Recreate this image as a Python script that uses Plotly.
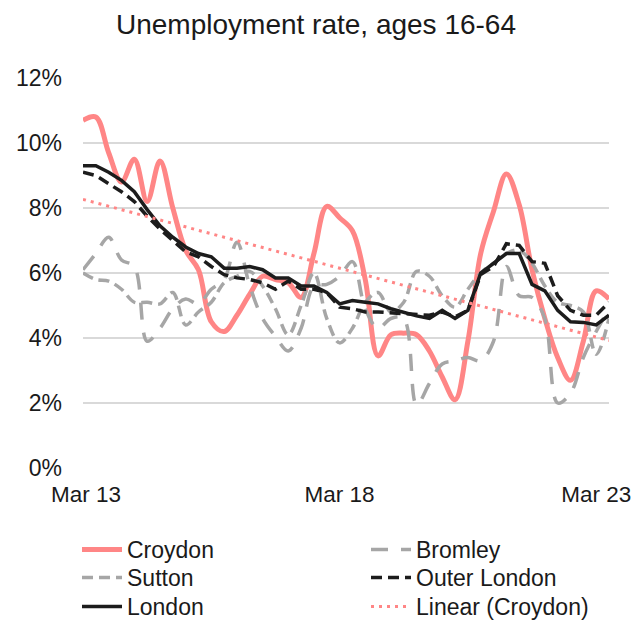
import numpy as np
import plotly.graph_objects as go

# ---------------- data (percent, quarterly, Mar 13 .. Jun 23) ----------------
periods = [f"{m} {y:02d}" for y in range(13, 24) for m in ("Mar", "Jun", "Sep", "Dec")][:42]
tick_labels = ["Mar 13", "Mar 18", "Mar 23"]
y_ticks = [0, 2, 4, 6, 8, 10, 12]

croydon = [10.7, 10.8, 9.7, 8.8, 9.5, 8.2, 9.45, 8.0, 6.7, 6.1,
           4.5, 4.2, 4.7, 5.35, 5.9, 5.8, 5.7, 5.25, 6.6, 8.05,
           7.7, 7.3, 5.8, 3.45, 4.1, 4.15, 4.1, 3.6, 2.8, 2.1,
           3.9, 6.6, 7.9, 9.05, 8.1, 6.1, 4.6, 3.4, 2.7, 3.9,
           5.45, 5.2]
bromley = [6.1, 6.6, 7.1, 6.4, 6.2, 3.9, 4.3, 4.9, 5.2, 5.05,
           5.5, 5.8, 6.95, 5.6, 4.6, 4.05, 3.6, 4.3, 5.6, 5.65,
           5.9, 6.35, 4.9, 4.3, 4.6, 4.6, 1.95, 2.6, 3.2, 3.3,
           3.4, 3.3, 3.9, 6.2, 5.3, 5.25, 4.6, 2.0, 2.3, 3.4,
           4.2, 4.9]
sutton = [6.0, 5.8, 5.75, 5.5, 5.1, 5.1, 5.05, 5.4, 4.4, 4.8,
          5.1, 5.7, 5.9, 6.05, 5.6, 4.9, 4.1, 5.0, 6.0, 4.6,
          3.85, 4.3, 5.1, 5.4, 4.8, 5.1, 6.05, 5.9, 5.3, 4.95,
          5.5, 6.0, 6.3, 6.6, 6.7, 6.3, 5.6, 5.1, 5.0, 4.8,
          3.5, 4.6]
outer_london = [9.1, 9.0, 8.75, 8.5, 8.2, 7.75, 7.35, 7.0, 6.65, 6.5,
                6.2, 5.95, 5.85, 5.8, 5.7, 5.5, 5.75, 5.5, 5.5, 5.4,
                4.95, 4.9, 4.8, 4.8, 4.78, 4.75, 4.72, 4.7, 4.8, 4.65,
                4.85, 5.95, 6.2, 6.9, 6.85, 6.35, 6.3, 5.3, 4.85, 4.7,
                4.7, 5.1]
london = [9.3, 9.3, 9.1, 8.85, 8.5, 7.95, 7.45, 7.1, 6.8, 6.6,
          6.5, 6.15, 6.15, 6.2, 6.1, 5.85, 5.85, 5.6, 5.6, 5.4,
          5.05, 5.15, 5.1, 5.05, 4.9, 4.78, 4.68, 4.6, 4.85, 4.6,
          4.85, 6.0, 6.3, 6.6, 6.6, 5.65, 5.45, 4.85, 4.5, 4.48,
          4.4, 4.7]

# linear trendline of Croydon (as Excel does)
idx = np.arange(len(croydon))
slope, intercept = np.polyfit(idx, croydon, 1)
croydon_trend = slope * idx + intercept

PINK = "#FF8686"
GREY = "#A6A6A6"
BLACK = "#1C1C1C"
FONT = "Liberation Sans, Arial, sans-serif"

fig = go.Figure()
fig.add_trace(go.Scatter(x=periods, y=croydon, name="Croydon", mode="lines", legend="legend",
                         line=dict(color=PINK, width=5, shape="spline", smoothing=1.0)))
fig.add_trace(go.Scatter(x=periods, y=bromley, name="Bromley", mode="lines", legend="legend2",
                         line=dict(color=GREY, width=3.5, dash="17px,13px", shape="spline", smoothing=1.0)))
fig.add_trace(go.Scatter(x=periods, y=sutton, name="Sutton", mode="lines", legend="legend3",
                         line=dict(color=GREY, width=3.5, dash="11px,6px", shape="spline", smoothing=1.0)))
fig.add_trace(go.Scatter(x=periods, y=outer_london, name="Outer London", mode="lines", legend="legend4",
                         line=dict(color=BLACK, width=3.5, dash="11px,6px")))
fig.add_trace(go.Scatter(x=periods, y=london, name="London", mode="lines", legend="legend5",
                         line=dict(color=BLACK, width=3.5)))
fig.add_trace(go.Scatter(x=periods, y=croydon_trend, name="Linear (Croydon)", mode="lines", legend="legend6",
                         line=dict(color=PINK, width=3, dash="3px,5px")))

legend_common = dict(orientation="v", xref="container", yref="container",
                     xanchor="left", yanchor="top", itemwidth=40, tracegroupgap=0,
                     font=dict(family=FONT, size=23, color="#1A1A1A"),
                     bgcolor="rgba(0,0,0,0)")

col_x = [77, 366]
row_top = [528, 556, 585]
legends = {}
for k in range(6):
    key = "legend" if k == 0 else f"legend{k + 1}"
    legends[key] = dict(legend_common, x=col_x[k % 2] / 632, y=1 - row_top[k // 2] / 622)

fig.update_layout(
    width=632, height=622,
    margin=dict(l=83, r=23, t=78, b=154, autoexpand=False),
    paper_bgcolor="white", plot_bgcolor="white",
    font=dict(family=FONT, size=23, color="#1A1A1A"),
    title=dict(text="Unemployment rate, ages 16-64", x=0.5, xanchor="center",
               y=1 - 24 / 622, yref="container", yanchor="middle",
               font=dict(family=FONT, size=28, color="#1A1A1A")),
    xaxis=dict(type="category", range=[0, len(periods) - 1], automargin=False,
               tickvals=tick_labels,
               ticktext=["\u00a0Mar 13", "Mar 18", "Mar 23"],
               showgrid=False, zeroline=False, showline=False, ticks="",
               ticklabelstandoff=10, tickfont=dict(size=22.5)),
    yaxis=dict(range=[0, 12], tickvals=y_ticks, ticktext=[f"{v}%" for v in y_ticks],
               automargin=False,
               showgrid=True, gridcolor="#D9D9D9", gridwidth=1.5,
               zeroline=False, showline=False, ticks="",
               ticklabelstandoff=20, tickfont=dict(size=23)),
    showlegend=True,
    **legends,
)

fig.write_html("out.html")
